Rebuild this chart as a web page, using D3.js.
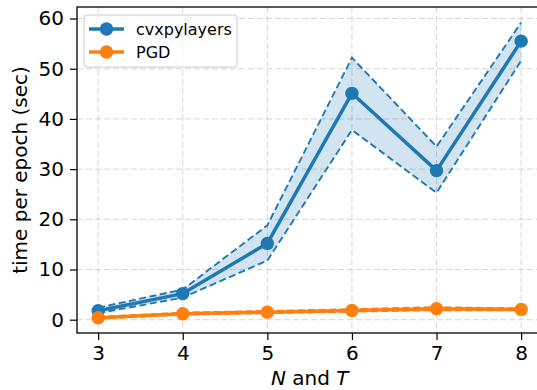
<!DOCTYPE html>
<html>
<head>
    <script src="https://d3js.org/d3.v7.min.js"></script>
    <style>
        body { margin: 0; background: #fff; }
        text { font-family: "DejaVu Sans", sans-serif; fill: #000; }
    </style>
</head>
<body>
<svg id="chart"></svg>
<script>
    // x values (N and T)
    const sizes = [3, 4, 5, 6, 7, 8];

    // cvxpylayers: mean and band edges
    const cvxMean = [1.8, 5.2, 15.2, 45.1, 29.7, 55.5];
    const cvxLow = [1.3, 4.4, 11.8, 37.8, 25.3, 51.6];
    const cvxHigh = [2.4, 6.0, 18.8, 52.2, 34.5, 59.2];

    // PGD: mean and band edges
    const pgdMean = [0.4, 1.2, 1.5, 1.85, 2.2, 2.05];
    const pgdLow = [0.2, 1.0, 1.3, 1.6, 1.9, 1.85];
    const pgdHigh = [0.6, 1.4, 1.75, 2.1, 2.5, 2.25];

    const yTicks = [0, 10, 20, 30, 40, 50, 60];

    const seriesList = [
        { name: "cvxpylayers", color: "#1f77b4", mean: cvxMean, low: cvxLow, high: cvxHigh },
        { name: "PGD", color: "#ff7f0e", mean: pgdMean, low: pgdLow, high: pgdHigh }
    ];

    const svgWidth = 537, svgHeight = 390;
    const margin = { top: 7, left: 77, bottom: 57 };
    const height = svgHeight - margin.top - margin.bottom;
    const fontBig = "20px";

    const svg = d3.select("#chart")
        .attr("width", svgWidth)
        .attr("height", svgHeight);

    const xScale = d3.scaleLinear().domain([2.75, 8.25]).range([margin.left, margin.left + 5.5 * 84.6]);
    const yScale = d3.scaleLinear().domain([-2.65, 62.3]).range([margin.top + height, margin.top]);

    // grid
    const grid = svg.append("g");
    grid.selectAll(".gx").data(sizes).enter().append("line")
        .attr("x1", d => xScale(d)).attr("x2", d => xScale(d))
        .attr("y1", margin.top).attr("y2", margin.top + height)
        .attr("stroke", "#b0b0b0").attr("stroke-opacity", 0.5)
        .attr("stroke-width", 1).attr("stroke-dasharray", "6,3");
    grid.selectAll(".gy").data(yTicks).enter().append("line")
        .attr("x1", margin.left).attr("x2", svgWidth)
        .attr("y1", d => yScale(d)).attr("y2", d => yScale(d))
        .attr("stroke", "#b0b0b0").attr("stroke-opacity", 0.5)
        .attr("stroke-width", 1).attr("stroke-dasharray", "6,3");

    const area = d3.area()
        .x((d, i) => xScale(sizes[i]))
        .y0(d => yScale(d[0]))
        .y1(d => yScale(d[1]));
    const line = d3.line()
        .x((d, i) => xScale(sizes[i]))
        .y(d => yScale(d));

    seriesList.forEach(s => {
        const g = svg.append("g");
        g.append("path")
            .datum(s.low.map((v, i) => [v, s.high[i]]))
            .attr("fill", s.color).attr("fill-opacity", 0.2)
            .attr("d", area);
        [s.low, s.high].forEach(edge => {
            g.append("path")
                .datum(edge)
                .attr("fill", "none").attr("stroke", s.color)
                .attr("stroke-width", 1.9).attr("stroke-dasharray", "7,3.5")
                .attr("d", line);
        });
        g.append("path")
            .datum(s.mean)
            .attr("fill", "none").attr("stroke", s.color)
            .attr("stroke-width", 3.5).attr("stroke-linejoin", "round")
            .attr("d", line);
        g.selectAll("circle").data(s.mean).enter().append("circle")
            .attr("cx", (d, i) => xScale(sizes[i]))
            .attr("cy", d => yScale(d))
            .attr("r", 6.7)
            .attr("fill", s.color);
    });

    // axes
    const xAxis = svg.append("g")
        .attr("transform", `translate(0, ${margin.top + height})`)
        .call(d3.axisBottom(xScale).tickValues(sizes).tickFormat(d3.format("d")).tickSizeOuter(0).tickSize(7).tickPadding(6));
    const yAxis = svg.append("g")
        .attr("transform", `translate(${margin.left}, 0)`)
        .call(d3.axisLeft(yScale).tickValues(yTicks).tickSizeOuter(0).tickSize(7).tickPadding(6));
    [xAxis, yAxis].forEach(a => {
        a.select(".domain").remove();
        a.selectAll("line").attr("stroke", "#000").attr("stroke-width", 1.2);
        a.selectAll("text").style("font-size", fontBig).style("font-family", "DejaVu Sans");
    });

    // spines
    svg.append("rect")
        .attr("x", margin.left).attr("y", margin.top)
        .attr("width", xScale(8.25) - margin.left).attr("height", height)
        .attr("fill", "none").attr("stroke", "#000").attr("stroke-width", 1.3);

    // axis labels
    const xl = svg.append("text")
        .attr("x", (margin.left + xScale(8.25)) / 2).attr("y", 385)
        .attr("text-anchor", "middle").style("font-size", fontBig);
    xl.append("tspan").attr("font-style", "italic").text("N");
    xl.append("tspan").text(" and ");
    xl.append("tspan").attr("font-style", "italic").text("T");

    svg.append("text")
        .attr("transform", "rotate(-90)")
        .attr("x", -(margin.top + height / 2)).attr("y", 27)
        .attr("text-anchor", "middle").style("font-size", fontBig)
        .text("time per epoch (sec)");

    // legend
    const legend = svg.append("g");
    legend.append("rect")
        .attr("x", 84).attr("y", 15).attr("width", 153).attr("height", 52)
        .attr("rx", 3).attr("fill", "#fff").attr("fill-opacity", 0.8)
        .attr("stroke", "#cccccc").attr("stroke-width", 1);
    seriesList.forEach((s, i) => {
        const y = 29 + i * 23;
        legend.append("line")
            .attr("x1", 89).attr("x2", 124).attr("y1", y).attr("y2", y)
            .attr("stroke", s.color).attr("stroke-width", 3.5);
        legend.append("circle").attr("cx", 106.5).attr("cy", y).attr("r", 6.7).attr("fill", s.color);
        legend.append("text").attr("x", 136).attr("y", y + 5.5)
            .style("font-size", "16px").text(s.name);
    });
</script>
</body>
</html>
